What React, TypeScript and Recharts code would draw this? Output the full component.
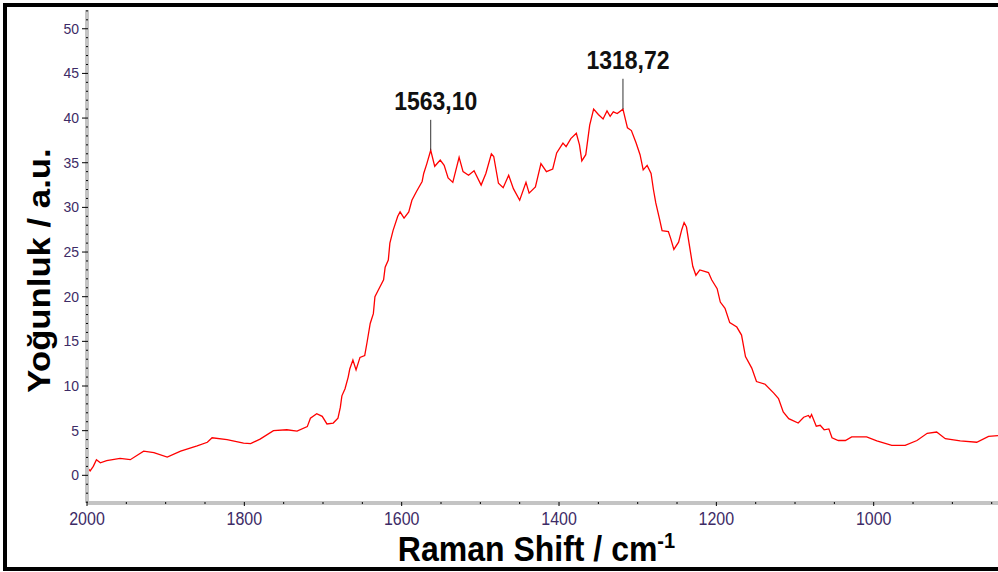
import React from "react";
import { LineChart, Line, XAxis, YAxis, ReferenceLine, ReferenceDot } from "recharts";

// Raman shift (cm-1), high to low
const shift = [
  2000, 1996, 1992, 1988, 1983, 1975, 1958, 1945, 1928, 1915, 1898, 1881, 1860, 1847, 1841,
  1822, 1801, 1792, 1780, 1763, 1746, 1733, 1720, 1716, 1708, 1701, 1695, 1687, 1681, 1678,
  1676, 1672, 1668, 1666, 1662, 1658, 1653, 1647, 1644, 1640, 1636, 1634, 1630, 1623, 1621,
  1617, 1615, 1611, 1605, 1602, 1597, 1591, 1587, 1581, 1574, 1572, 1568, 1563.1, 1558, 1551,
  1546, 1541, 1535, 1527, 1522, 1515, 1508, 1499, 1493, 1486, 1483, 1477, 1471, 1464, 1458,
  1450, 1442, 1438, 1430, 1423, 1416, 1408, 1403, 1395, 1391, 1385, 1378, 1374, 1371, 1366,
  1361, 1356, 1350, 1344, 1339, 1335, 1331, 1326, 1318.72, 1316, 1313, 1308, 1302, 1297, 1293,
  1288, 1283, 1280, 1277, 1272, 1269, 1261, 1258, 1254, 1248, 1244, 1241, 1238, 1234, 1230,
  1226, 1221, 1210, 1206, 1199, 1195, 1189, 1183, 1174, 1168, 1163, 1155, 1149, 1138, 1127,
  1121, 1115, 1108, 1096, 1089, 1083, 1081, 1079, 1073, 1068, 1063, 1057, 1053, 1045, 1036,
  1028, 1009, 996, 977, 960, 945, 932, 920, 909, 890, 869, 854, 842,
];

// Yoğunluk (a.u.)
const intensity = [
  0.9, 0.5, 1.0, 1.75, 1.4, 1.65, 1.9, 1.75, 2.7, 2.55, 2.05, 2.7, 3.3, 3.7, 4.2,
  4.0, 3.6, 3.55, 4.05, 5.0, 5.1, 4.95, 5.45, 6.4, 6.9, 6.6, 5.75, 5.85, 6.4, 7.6,
  8.9, 9.7, 11.0, 11.9, 12.9, 11.8, 13.2, 13.4, 14.9, 17.0, 18.1, 20.0, 20.7, 21.9, 23.3,
  24.1, 26.0, 27.4, 29.0, 29.5, 28.8, 29.5, 30.8, 31.8, 32.9, 33.8, 34.9, 36.4, 34.6, 35.3,
  34.7, 33.3, 32.8, 35.6, 34.0, 33.6, 34.1, 32.5, 33.8, 36.0, 35.7, 32.7, 32.2, 33.6, 32.1,
  30.8, 32.8, 31.6, 32.3, 34.9, 34.0, 34.3, 36.1, 37.2, 36.8, 37.7, 38.3, 37.0, 35.2, 35.9,
  39.2, 41.0, 40.4, 39.9, 40.8, 40.2, 40.7, 40.5, 41.0, 40.0, 38.9, 38.6, 37.2, 35.9, 34.2,
  34.7, 33.8, 32.0, 30.5, 28.6, 27.4, 27.3, 26.5, 25.3, 26.1, 27.5, 28.3, 27.8, 25.6, 23.4,
  22.4, 23.0, 22.7, 21.9, 20.9, 19.4, 18.7, 17.1, 16.6, 15.7, 13.3, 12.0, 10.5, 10.2, 9.2,
  8.6, 7.1, 6.35, 5.85, 6.5, 6.7, 6.45, 6.8, 5.5, 5.6, 5.1, 5.2, 4.2, 3.9, 3.9,
  4.3, 4.3, 3.85, 3.35, 3.35, 3.9, 4.7, 4.85, 4.1, 3.85, 3.7, 4.35, 4.45,
];

const xMajorTicks = [2000, 1800, 1600, 1400, 1200, 1000];
const yMajorTicks = [0, 5, 10, 15, 20, 25, 30, 35, 40, 45, 50];

const peaks = [
  { x: 1563.1, y: 36.4, top: 39.8, label: "1563,10" },
  { x: 1318.72, y: 41.0, top: 44.4, label: "1318,72" },
];

const data = shift.map((s, i) => ({ shift: s, intensity: intensity[i] }));

const X_DOMAIN: [number, number] = [842, 2000];
const Y_DOMAIN: [number, number] = [-3.1, 52.1];

// minor ticks: every 50 cm-1 on x, every unit on y
const xTicks: number[] = [];
for (let v = 850; v <= 2000; v += 50) xTicks.push(v);
const yTicks: number[] = [];
for (let v = -3; v <= 52; v += 1) yTicks.push(v);

const FONT = "'Liberation Sans', Arial, sans-serif";
const TICK_COLOR = "#3d2b66";

const YTick = (props: any) => {
  const { x, y, payload } = props;
  const v = payload.value;
  const major = yMajorTicks.includes(v);
  return (
    <g>
      <line x1={major ? x - 5 : x - 1} x2={x + 1} y1={y} y2={y} stroke="#000" strokeWidth={1} />
      {major && (
        <text x={x - 8} y={y + 5} textAnchor="end" fontSize={14} fontFamily={FONT} fill={TICK_COLOR}>
          {v}
        </text>
      )}
    </g>
  );
};

const XTick = (props: any) => {
  const { x, y, payload } = props;
  const v = payload.value;
  const major = xMajorTicks.includes(v);
  return (
    <g>
      <line x1={x} x2={x} y1={y - 1} y2={major ? y + 3 : y + 1} stroke="#000" strokeWidth={1} />
      {major && (
        <g transform={`translate(${x},${y + 22}) scale(1,1.12)`}>
          <text x={0} y={0} textAnchor="middle" fontSize={16} fontFamily={FONT} fill={TICK_COLOR}>
            {v}
          </text>
        </g>
      )}
    </g>
  );
};

const XTitle = (props: any) => {
  const { x, y, width } = props.viewBox;
  return (
    <g transform={`translate(${x + width / 2 - 6},${y + 58}) scale(1,1.1)`}>
      <text x={0} y={0} textAnchor="middle" fontSize={32} fontWeight="bold" fontFamily={FONT} fill="#000">
        Raman Shift / cm
        <tspan fontSize={20} dy={-12}>-1</tspan>
      </text>
    </g>
  );
};

const YTitle = (props: any) => {
  const { y, height } = props.viewBox;
  return (
    <g transform={`translate(50,${y + height / 2 + 14}) rotate(-90) scale(1.12,1)`}>
      <text x={0} y={0} textAnchor="middle" fontSize={31} fontWeight="bold" fontFamily={FONT} fill="#000">
        Yoğunluk / a.u.
      </text>
    </g>
  );
};

const PeakLabel = ({ cx, cy, text }: any) => (
  <g transform={`translate(${cx + 5},${cy - 10}) scale(1,1.1)`}>
    <text x={0} y={0} textAnchor="middle" fontSize={23} fontWeight="bold" fontFamily={FONT} fill="#111">
      {text}
    </text>
  </g>
);

export default function App() {
  return (
    <div style={{ position: "absolute", left: 0, top: 0, width: 998, height: 572, background: "#fff" }}>
      <div
        style={{
          position: "absolute",
          left: 3,
          top: 3,
          width: 996,
          height: 568,
          boxSizing: "border-box",
          borderLeft: "4px solid #000",
          borderTop: "4px solid #000",
          borderBottom: "4px solid #000",
        }}
      />
      <div style={{ position: "absolute", left: 0, top: 0 }}>
        <LineChart width={998} height={572} data={data} margin={{ top: 10, right: 0, bottom: 0, left: 0 }}>
          <XAxis
            dataKey="shift"
            type="number"
            domain={X_DOMAIN}
            reversed
            allowDataOverflow
            ticks={xTicks}
            interval={0}
            tick={<XTick />}
            tickLine={false}
            tickSize={0}
            tickMargin={0}
            height={69}
            axisLine={{ stroke: "#c4c4c4", strokeWidth: 4 }}
            label={<XTitle />}
          />
          <YAxis
            type="number"
            domain={Y_DOMAIN}
            allowDataOverflow
            ticks={yTicks}
            interval={0}
            tick={<YTick />}
            tickLine={false}
            tickSize={0}
            tickMargin={0}
            width={87}
            axisLine={{ stroke: "#c4c4c4", strokeWidth: 4 }}
            label={<YTitle />}
          />
          <Line
            type="linear"
            dataKey="intensity"
            stroke="#ff0000"
            strokeWidth={1.3}
            dot={false}
            isAnimationActive={false}
          />
          {peaks.map((p) => (
            <ReferenceLine
              key={"l" + p.label}
              segment={[
                { x: p.x, y: p.y },
                { x: p.x, y: p.top },
              ]}
              stroke="#333"
              strokeWidth={1}
            />
          ))}
          {peaks.map((p) => (
            <ReferenceDot
              key={"d" + p.label}
              x={p.x}
              y={p.top}
              r={1}
              shape={(props: any) => <PeakLabel cx={props.cx} cy={props.cy} text={p.label} />}
            />
          ))}
        </LineChart>
      </div>
    </div>
  );
}
